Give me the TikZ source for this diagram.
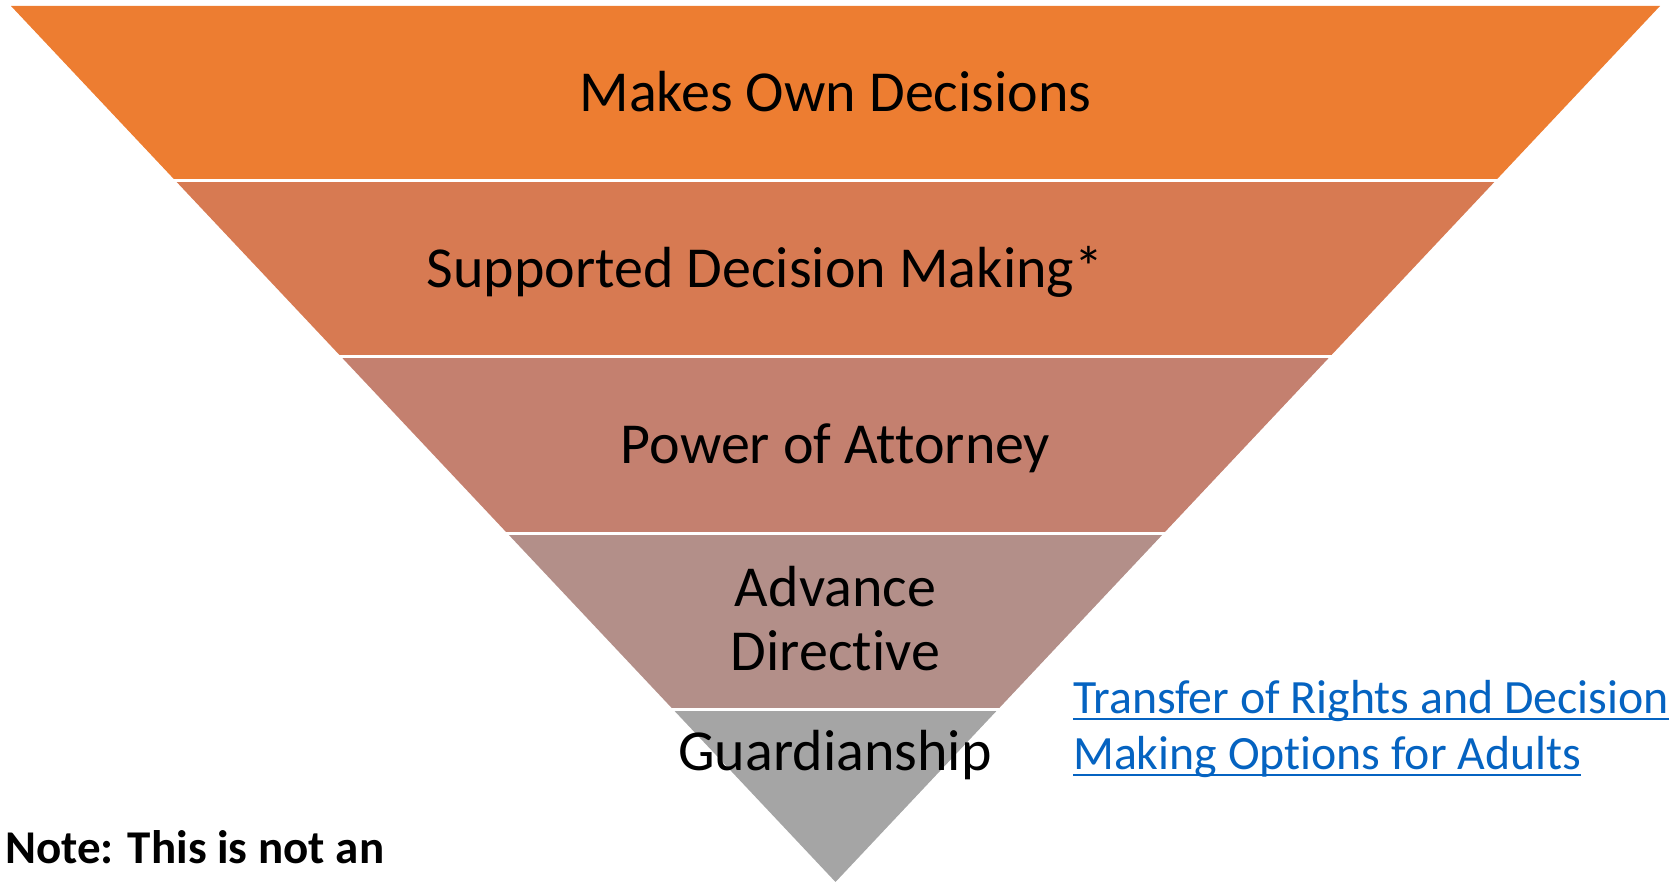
\documentclass[tikz,border=0pt]{standalone}
\usepackage{fontspec}
\setmainfont{Carlito}[Ligatures={NoCommon}]
\definecolor{bandA}{HTML}{ED7D31}
\definecolor{bandB}{HTML}{D77A52}
\definecolor{bandC}{HTML}{C4806F}
\definecolor{bandD}{HTML}{B38F89}
\definecolor{bandE}{HTML}{A5A5A5}
\definecolor{linkblue}{HTML}{0563C1}
\tikzset{
  bandtext/.style={font=\fontsize{58}{64}\selectfont, text=black, inner sep=0pt, anchor=base},
  linktext/.style={font=\fontsize{47.8}{56}\selectfont, text=linkblue, inner sep=0pt, anchor=base west},
  notetext/.style={font=\fontsize{47}{56}\selectfont\bfseries, text=black, inner sep=0pt, anchor=base west},
  sep/.style={draw=white, line width=3pt},
  uline/.style={draw=linkblue, line width=2.6pt}
}
\begin{document}
\begin{tikzpicture}[x=1pt,y=-1pt]
\useasboundingbox (0,0) rectangle (1674,882);
% half width at depth y: 0.94121*(882-y), centre 835.5
\newcommand{\hwL}[1]{({835.5-0.94121*(882-#1)},#1)}
\newcommand{\hwR}[1]{({835.5+0.94121*(882-#1)},#1)}
\coordinate (tip) at (835.5,882);
\fill[bandA] (11,6) -- (1660,6) -- \hwR{181} -- \hwL{181} -- cycle;
\fill[bandB] \hwL{181} -- \hwR{181} -- \hwR{357} -- \hwL{357} -- cycle;
\fill[bandC] \hwL{357} -- \hwR{357} -- \hwR{533} -- \hwL{533} -- cycle;
\fill[bandD] \hwL{533} -- \hwR{533} -- \hwR{709} -- \hwL{709} -- cycle;
\fill[bandE] \hwL{709} -- \hwR{709} -- (tip) -- cycle;
\foreach \yy in {181,357,533,709}{
  \draw[sep] ({835.5-0.94121*(882-\yy)-4},\yy) -- ({835.5+0.94121*(882-\yy)+4},\yy);
}
\node[bandtext] (own) at (835.5,112) {Makes Own Decisions};
\node[bandtext] (sdm) at (765,288) {Supported Decision Making*};
\node[bandtext] (poa) at (835.5,464) {Power of Attorney};
\node[bandtext] (adv1) at (835.5,606) {Advance};
\node[bandtext] (adv2) at (835.5,670) {Directive};
\node[bandtext] (guard) at (835,770) {Guardianship};
\node[linktext] (link1) at (1073,713) {Transfer of Rights and Decision};
\node[linktext] (link2) at (1073,769) {Making Options for Adults};
\draw[uline] ([yshift=-6pt]link1.base west) -- ([yshift=-6pt]link1.base east);
\draw[uline] ([yshift=-6pt]link2.base west) -- ([yshift=-6pt]link2.base east);
\node[notetext] (note) at (5,863) {Note: This is not an};
\end{tikzpicture}
\end{document}
